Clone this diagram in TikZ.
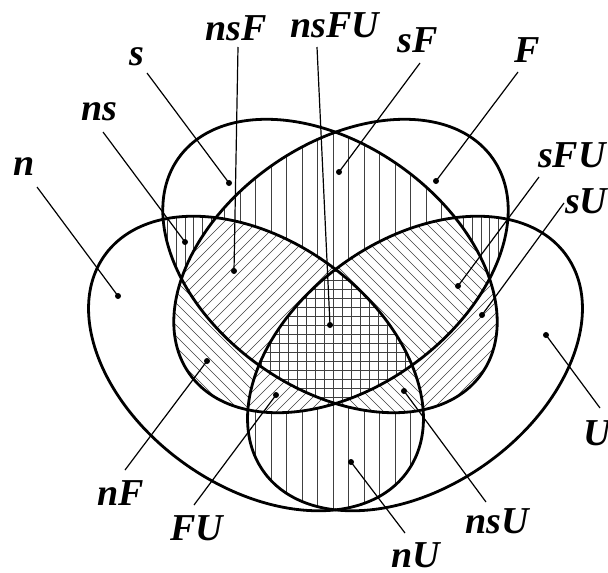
\documentclass[tikz,border=0pt]{standalone}
\usepackage{fontspec}
\setmainfont{Liberation Serif}
\newcommand\clipN{\clip[rotate around={-35.5:(256,363.5)}] (256,363.5) ellipse [x radius=186pt, y radius=123pt];}
\newcommand\clipS{\clip[rotate around={-35.5:(330,266)}] (330,266) ellipse [x radius=186pt, y radius=122pt];}
\newcommand\clipF{\clip[rotate around={35.5:(341,266)}] (341,266) ellipse [x radius=186pt, y radius=122pt];}
\newcommand\clipU{\clip[rotate around={35.5:(415,363.5)}] (415,363.5) ellipse [x radius=186pt, y radius=123pt];}
\newcommand\whiteout{\fill[white] (0,0) rectangle (608,573);}
\newcommand\vsparse{\foreach \i in {-22,...,18} \draw[hatch] ({333+15.5*\i},0) -- ++(0,573);}
\newcommand\vdense{\foreach \i in {-40,...,35} \draw[hatch] ({333+8.7*\i},0) -- ++(0,573);}
\newcommand\fwdhatch{\foreach \c in {-600,-589,...,640} \draw[hatch] (\c,573) -- ++(573,-573);}
\newcommand\backhatch{\foreach \c in {-600,-589,...,640} \draw[hatch] (\c,0) -- ++(573,573);}
\newcommand\gridhatch{\foreach \i in {-40,...,35} {\draw[hatch] ({333+9*\i},0) -- ++(0,573); \draw[hatch] (0,{325+9*\i}) -- ++(608,0);}}
\begin{document}
\begin{tikzpicture}[x=1pt,y=-1pt,
  hatch/.style={line width=0.65pt, black!75},
  outline/.style={line width=2.8pt},
  leader/.style={line width=1.2pt},
  dot/.style={circle, fill=black, inner sep=0pt, minimum size=6pt},
  lbl/.style={font=\fontsize{38}{38}\selectfont\bfseries\itshape, inner sep=0pt, anchor=base},
]
\useasboundingbox (0,0) rectangle (608,573);
\fill[white] (0,0) rectangle (608,573);

% two-set regions
\begin{scope}\clipN\clipS\whiteout\vdense\end{scope}
\begin{scope}\clipS\clipF\whiteout\vsparse\end{scope}
\begin{scope}\clipF\clipU\whiteout\vdense\end{scope}
\begin{scope}\clipN\clipU\whiteout\vsparse\end{scope}
\begin{scope}\clipN\clipF\whiteout\backhatch\end{scope}
\begin{scope}\clipS\clipU\whiteout\fwdhatch\end{scope}
% three-set regions
\begin{scope}\clipN\clipS\clipF\whiteout\fwdhatch\end{scope}
\begin{scope}\clipS\clipF\clipU\whiteout\backhatch\end{scope}
\begin{scope}\clipN\clipS\clipU\whiteout\backhatch\end{scope}
\begin{scope}\clipN\clipF\clipU\whiteout\fwdhatch\end{scope}
% four-set region
\begin{scope}\clipN\clipS\clipF\clipU\whiteout\gridhatch\end{scope}

% outlines
\draw[outline, rotate around={-35.5:(256,363.5)}] (256,363.5) ellipse [x radius=186pt, y radius=123pt];
\draw[outline, rotate around={-35.5:(330,266)}] (330,266) ellipse [x radius=186pt, y radius=122pt];
\draw[outline, rotate around={35.5:(341,266)}] (341,266) ellipse [x radius=186pt, y radius=122pt];
\draw[outline, rotate around={35.5:(415,363.5)}] (415,363.5) ellipse [x radius=186pt, y radius=123pt];

% dots
\node[dot] (dn) at (118,296) {};
\node[dot] (dns) at (185,242) {};
\node[dot] (ds) at (229,183) {};
\node[dot] (dnsF) at (234,271) {};
\node[dot] (dnsFU) at (330,325) {};
\node[dot] (dsF) at (339,172) {};
\node[dot] (dF) at (436,181) {};
\node[dot] (dsFU) at (458,286) {};
\node[dot] (dsU) at (482,315) {};
\node[dot] (dU) at (546,335) {};
\node[dot] (dnsU) at (404,391) {};
\node[dot] (dnU) at (351,462) {};
\node[dot] (dnF) at (207,361) {};
\node[dot] (dFU) at (276,395) {};

% leader starts
\coordinate (an) at (37,187);
\coordinate (ans) at (103,132);
\coordinate (as) at (147,73);
\coordinate (ansF) at (238,47);
\coordinate (ansFU) at (317,47);
\coordinate (asF) at (420,63);
\coordinate (aF) at (518,72);
\coordinate (asFU) at (539,177);
\coordinate (asU) at (564,203);
\coordinate (aU) at (600,408);
\coordinate (ansU) at (486,502);
\coordinate (anU) at (405,533);
\coordinate (anF) at (125,470);
\coordinate (aFU) at (194,505);

\foreach \k in {n,ns,s,nsF,nsFU,sF,F,sFU,sU,U,nsU,nU,nF,FU}
  \draw[leader] (a\k) -- (d\k.center);

% labels
\node[lbl] (Ln) at (24,175) {n};
\node[lbl] (Lns) at (99.5,120) {ns};
\node[lbl] (Ls) at (137,65) {s};
\node[lbl] (LnsF) at (236.5,40) {nsF};
\node[lbl] (LnsFU) at (335,37) {nsFU};
\node[lbl] (LsF) at (417.5,52) {sF};
\node[lbl] (LF) at (527.5,62) {F};
\node[lbl, anchor=base west] (LsFU) at (538,167) {sFU};
\node[lbl, anchor=base west] (LsU) at (565,213) {sU};
\node[lbl, anchor=base west] (LU) at (583,445) {U};
\node[lbl] (LnsU) at (497,533) {nsU};
\node[lbl] (LnU) at (416,567) {nU};
\node[lbl] (LnF) at (121,505) {nF};
\node[lbl] (LFU) at (196.5,540) {FU};
\end{tikzpicture}
\end{document}
